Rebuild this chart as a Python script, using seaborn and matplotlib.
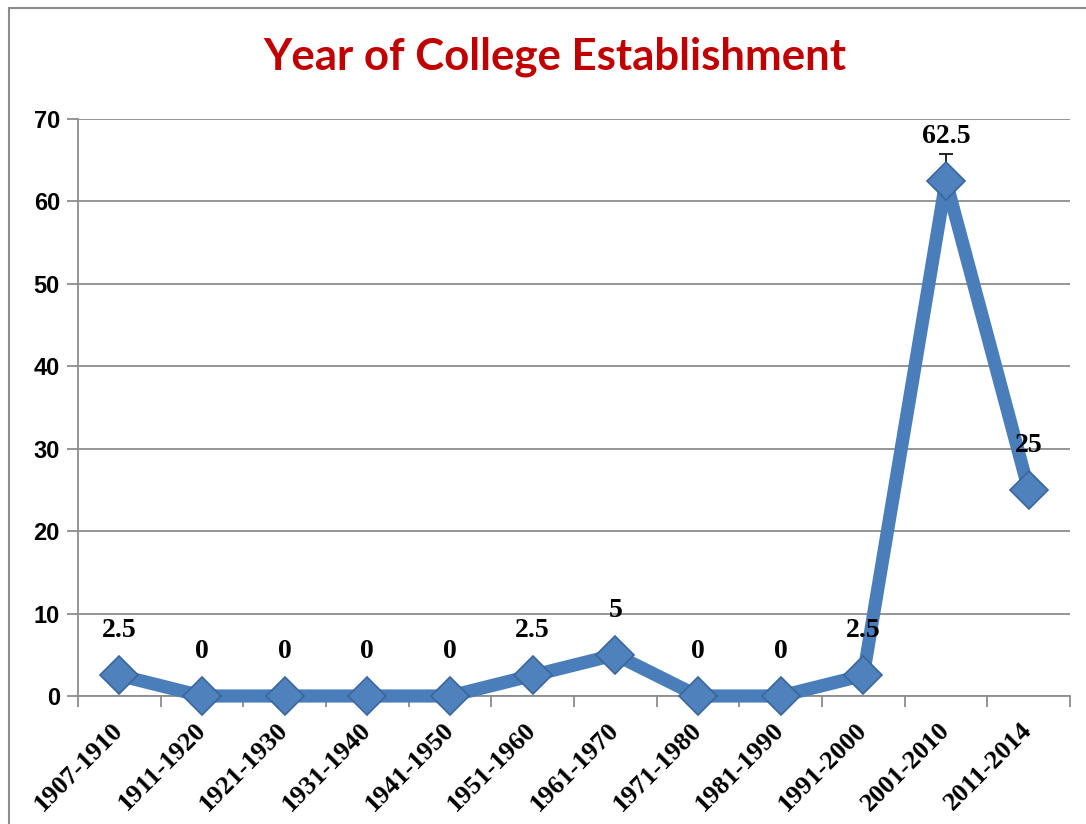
import numpy as np
import pandas as pd
import matplotlib
matplotlib.use("Agg")
import matplotlib.pyplot as plt
from matplotlib.lines import Line2D
import seaborn as sns

sns.set_theme(style="white")

periods = ["1907-1910", "1911-1920", "1921-1930", "1931-1940", "1941-1950",
           "1951-1960", "1961-1970", "1971-1980", "1981-1990", "1991-2000",
           "2001-2010", "2011-2014"]
percent = [2.5, 0, 0, 0, 0, 2.5, 5, 0, 0, 2.5, 62.5, 25]
labels = ["2.5", "0", "0", "0", "0", "2.5", "5", "0", "0", "2.5", "62.5", "25"]
err_up = [0, 0, 0, 0, 0, 0, 0, 0, 0, 0, 3.2, 0]
yticks = [0, 10, 20, 30, 40, 50, 60, 70]

df = pd.DataFrame({"Period": periods, "Percent": percent})

line_col = "#4A7EBB"
grid_col = "#8C8C8C"

fig = plt.figure(figsize=(10.86, 8.24), dpi=100)
ax = fig.add_axes([78/1086, 1-696/824, (1070-78)/1086, (696-119)/824])

x = np.arange(len(periods))
ax.errorbar(x, percent, yerr=[np.zeros(len(err_up)), err_up], fmt="none",
            ecolor="black", elinewidth=1.2, capsize=5, capthick=1.2, zorder=2)
sns.lineplot(data=df, x="Period", y="Percent", ax=ax, sort=False,
             color=line_col, linewidth=9.5, marker="D", markersize=19,
             markerfacecolor="#4F81BD", markeredgecolor="#3A669C",
             markeredgewidth=1.2, clip_on=False, zorder=3)

for xi, yi, lab in zip(x, percent, labels):
    ax.annotate(lab, (xi, yi), xytext=(0, 32), textcoords="offset points",
                ha="center", va="center", fontsize=20, fontweight="bold",
                family="Liberation Serif", color="black", zorder=4)

ax.set_xlim(-0.5, len(periods) - 0.5)
ax.set_ylim(0, 70)
ax.set_yticks(yticks)
ax.set_yticklabels([str(t) for t in yticks], fontsize=17, fontweight="bold",
                   family="Liberation Sans", color="black")
ax.yaxis.grid(True, color=grid_col, linewidth=1.3)
ax.set_axisbelow(True)

ax.set_xticks(x)
ax.set_xticklabels(periods, rotation=45, ha="right", va="center",
                   rotation_mode="anchor", fontsize=19, fontweight="bold",
                   family="Liberation Serif", color="black")
ax.set_xticks(np.arange(-0.5, len(periods)), minor=True)
ax.tick_params(axis="x", which="major", length=0, pad=22)
ax.tick_params(axis="x", which="minor", length=8, width=1.3, color=grid_col,
               direction="out", bottom=True)
ax.tick_params(axis="y", length=8, width=1.3, color=grid_col, direction="out",
               left=True, pad=5)

ax.set_xlabel("")
ax.set_ylabel("")
for s in ["top", "right"]:
    ax.spines[s].set_visible(False)
for s in ["left", "bottom"]:
    ax.spines[s].set_color(grid_col)
    ax.spines[s].set_linewidth(1.3)

fig.text(555/1086, 1-57/824, "Year of College Establishment", ha="center",
         va="center", fontsize=31.5, fontweight="bold", family="Lato",
         color="#C00000")

# chart frame
fig.add_artist(Line2D([9/1086, 9/1086], [0, 1-8/824], color="#8C8C8C", lw=1.5))
fig.add_artist(Line2D([9/1086, 1], [1-8/824, 1-8/824], color="#8C8C8C", lw=1.5))

fig.savefig("out.png", dpi=100)
